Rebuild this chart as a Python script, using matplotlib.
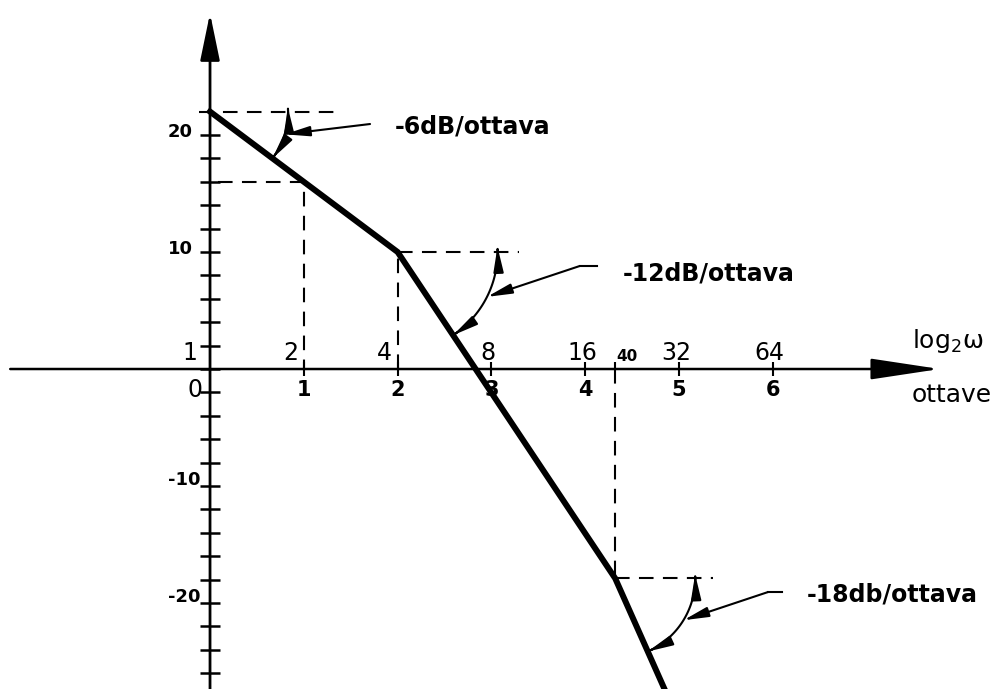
import numpy as np
import matplotlib.pyplot as plt
from matplotlib.patches import FancyArrowPatch
from matplotlib.path import Path
from matplotlib.transforms import IdentityTransform

# asymptotic gain: breakpoints in octaves (log2 of omega) and dB
gain_oct = [0, 2, 4.32, 4.92]
gain_db = [22, 10, -17.9, -28.7]

# axis labelling
octaves = [0, 1, 2, 3, 4, 5, 6]
omega_labels = ['1', '2', '4', '8', '16', '32', '64']
octave_labels = ['0', '1', '2', '3', '4', '5', '6']
db_ticks = np.arange(-26, 21, 2)
db_labels = [20, 10, -10, -20]

slope_texts = ['-6dB/ottava', '-12dB/ottava', '-18db/ottava']

fig = plt.figure(figsize=(10.03, 6.89), dpi=100)
ax = fig.add_axes([0, 0, 1, 1])
ax.set_xlim(-2.239, 8.454)
ax.set_ylim(-27.35, 31.54)
ax.axis('off')

# axes with arrows
ax.annotate('', xy=(0, 30.4), xytext=(0, -28),
            arrowprops=dict(arrowstyle='-|>,head_length=2.9,head_width=0.6',
                            mutation_scale=10, lw=2, color='k',
                            shrinkA=0, shrinkB=0))
ax.annotate('', xy=(7.78, 0), xytext=(-2.13, 0),
            arrowprops=dict(arrowstyle='-|>,head_length=4.3,head_width=0.65',
                            mutation_scale=10, lw=1.8, color='k',
                            shrinkA=0, shrinkB=0))

ax.hlines(db_ticks, -0.11, 0.11, color='k', lw=1.8)
ax.vlines(octaves[1:], -0.6, 0.6, color='k', lw=1.5)
ax.vlines(gain_oct[2], 0, 0.6, color='k', lw=1.5)

for v in db_labels:
    dx, dy = (-17, 3) if v > 0 else (-10, 6)
    ax.annotate(str(v), xy=(0, v), xytext=(dx, dy), textcoords='offset pixels',
                ha='right', va='center', fontsize=13, fontweight='bold')

for o, lab in zip(octaves, omega_labels):
    if o == 0:
        ax.annotate(lab, xy=(o, 0), xytext=(-13, 4), textcoords='offset pixels',
                    ha='right', va='bottom', fontsize=17)
    elif o in (1, 2):
        ax.annotate(lab, xy=(o, 0), xytext=(-6, 4), textcoords='offset pixels',
                    ha='right', va='bottom', fontsize=17)
    else:
        ax.annotate(lab, xy=(o, 0), xytext=(-3, 4), textcoords='offset pixels',
                    ha='center', va='bottom', fontsize=17)
ax.annotate('40', xy=(gain_oct[2], 0), xytext=(12, 5), textcoords='offset pixels',
            ha='center', va='bottom', fontsize=11, fontweight='bold')

for o, lab in zip(octaves, octave_labels):
    if o == 0:
        ax.annotate(lab, xy=(o, 0), xytext=(-8, -9), textcoords='offset pixels',
                    ha='right', va='top', fontsize=17)
    else:
        ax.annotate(lab, xy=(o, 0), xytext=(0, -11), textcoords='offset pixels',
                    ha='center', va='top', fontsize=15, fontweight='bold')

ax.text(7.48, 2.4, r'$\mathregular{log_2\omega}$', fontsize=18, ha='left', va='center')
ax.text(7.48, -2.2, 'ottave', fontsize=18, ha='left', va='center')

# dashed construction lines
dash = dict(color='k', lw=1.5, dashes=(7, 4.5))
ax.plot([-0.12, 1.35], [gain_db[0], gain_db[0]], **dash)
ax.plot([0.08, 1, 1], [16, 16, 0], **dash)
ax.plot([gain_oct[1], gain_oct[1]], [0, gain_db[1]], **dash)
ax.plot([gain_oct[1], 3.29], [gain_db[1], gain_db[1]], **dash)
ax.plot([gain_oct[2], gain_oct[2]], [0, gain_db[2]], **dash)
ax.plot([gain_oct[2], 5.36], [gain_db[2], gain_db[2]], **dash)

# gain curve
ax.plot(gain_oct, gain_db, color='k', lw=4.3, solid_joinstyle='miter')


def slope_arc(i, r, start, seg_end, text_pos, text):
    # double-headed arc between the segment and the horizontal, radius in pixels
    p0 = ax.transData.transform((gain_oct[i], gain_db[i]))
    p1 = ax.transData.transform((gain_oct[i + 1], gain_db[i + 1]))
    a = np.degrees(np.arctan2(p1[1] - p0[1], p1[0] - p0[0]))
    t = np.radians(np.linspace(a, 3, 50))
    pts = p0 + r * np.column_stack([np.cos(t), np.sin(t)])
    ax.add_patch(FancyArrowPatch(path=Path(pts),
                                 arrowstyle='<|-|>,head_length=1.5,head_width=0.3',
                                 mutation_scale=10, lw=1.5, color='k',
                                 transform=IdentityTransform()))
    tm = np.radians((a + 3) / 2)
    mid = ax.transData.inverted().transform(p0 + r * np.array([np.cos(tm), np.sin(tm)]))
    # leader from the label to the middle of the arc
    if seg_end is not None:
        ax.plot([start[0], seg_end], [start[1], start[1]], color='k', lw=1.5)
    ax.annotate('', xy=mid, xytext=start,
                arrowprops=dict(arrowstyle='-|>,head_length=1.5,head_width=0.3',
                                mutation_scale=10, lw=1.5, color='k',
                                shrinkA=0, shrinkB=0))
    ax.text(text_pos[0], text_pos[1], text, fontsize=17, fontweight='bold',
            ha='left', va='center')


slope_arc(0, 78, (1.706, 20.94), None, (1.97, 20.7), slope_texts[0])
slope_arc(1, 100, (3.94, 8.8), 4.13, (4.40, 8.2), slope_texts[1])
slope_arc(2, 80, (5.95, -19.06), 6.10, (6.36, -19.3), slope_texts[2])

fig.savefig('out.png', dpi=100)
